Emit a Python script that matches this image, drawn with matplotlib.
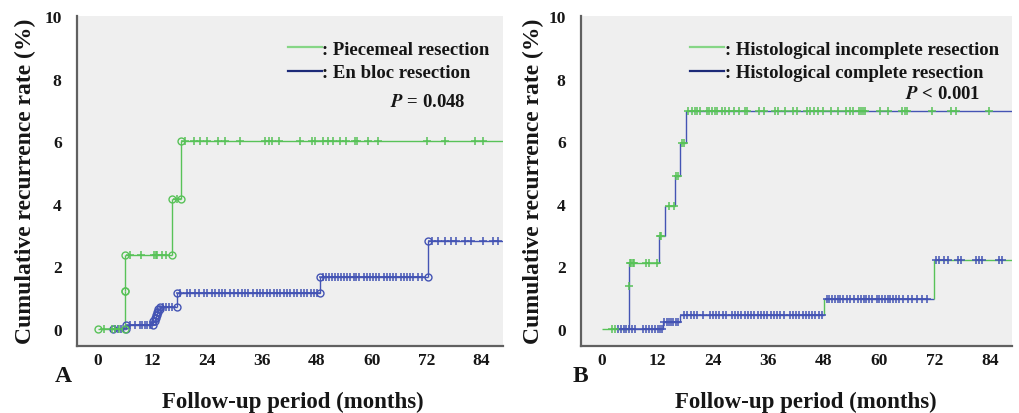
import numpy as np
import matplotlib
matplotlib.use("Agg")
import matplotlib.pyplot as plt
from matplotlib.lines import Line2D

plt.rcParams['font.family'] = ['Liberation Serif', 'DejaVu Serif']
plt.rcParams['font.weight'] = 'bold'
plt.rcParams['mathtext.fontset'] = 'stix'

# ---------------- data ----------------
x_ticks = [0, 12, 24, 36, 48, 60, 72, 84]
y_ticks = [0, 2, 4, 6, 8, 10]
x_end = 88.7

# Panel A
a_green_label = ": Piecemeal resection"
a_green_t = [0, 6.1, 6.1, 16.2, 18.2]
a_green_v = [0, 1.2, 2.35, 4.15, 6.0]
a_green_cens = [1.3, 3.1, 3.9, 4.6, 7.1, 9.5, 12.4, 12.8, 13.1, 14.1, 15.0, 17.3,
                19.2, 21.0, 22.4, 23.9, 26.4, 27.9, 31.2, 36.7, 37.4, 38.1, 39.6,
                44.3, 46.9, 47.6, 49.4, 50.5, 51.6, 53.0, 54.4, 56.3, 56.8, 59.2,
                61.4, 72.0, 76.0, 82.5, 84.4]

a_blue_label = ": En bloc resection"
a_blue_t = [3.3, 6.3, 12.2, 12.5, 12.8, 13.0, 13.3, 13.7, 17.3, 48.7, 72.3]
a_blue_v = [0, 0.13, 0.25, 0.35, 0.45, 0.55, 0.62, 0.7, 1.14, 1.65, 2.8]
a_blue_cens = [3.9, 4.5, 5.2, 7.1, 8.2, 9.3, 9.7, 10.4, 10.9, 11.5, 11.9,
               14.3, 15.0, 15.6, 16.2,
               18.0, 19.6, 20.3, 21.4, 22.1, 23.2, 23.9, 25.0, 25.7, 26.5, 27.2,
               27.9, 29.0, 29.8, 30.8, 31.6, 32.3, 33.0, 34.1, 34.8, 35.6, 36.3,
               37.0, 37.8, 38.5, 39.2, 40.0, 40.7, 41.4, 42.2, 42.9, 43.6, 44.4,
               45.1, 45.8, 46.6, 47.3, 48.0,
               49.3, 50.0, 50.6, 51.3, 52.0, 52.6, 53.3, 54.0, 54.6, 55.3, 56.0,
               56.6, 57.3, 58.3, 59.0, 59.6, 60.3, 61.0, 61.6, 62.6, 63.3, 64.0,
               64.6, 65.3, 66.3, 67.0, 67.6, 68.3, 69.0, 70.0, 71.0,
               73.1, 74.5, 76.0, 77.4, 78.5, 80.4, 81.8, 84.4, 86.5, 87.6]
a_p_text = r"$\mathbfit{P}$ = 0.048"

# Panel B
b_green_label = ": Histological incomplete resection"
b_green_t = [0, 5.9, 5.9, 12.3, 13.6, 15.9, 16.9, 18.1]
b_green_v = [0, 1.38, 2.1, 2.98, 3.92, 4.9, 5.93, 6.97]
b_green_cens = [2.3, 2.9, 6.1, 6.4, 6.7, 7.0, 9.5, 10.2, 12.0, 12.5, 12.9,
                14.5, 15.6, 16.0, 16.4, 17.3, 17.8,
                18.7, 19.4, 20.1, 20.6, 21.3, 22.7, 23.2, 23.8, 24.4, 24.9, 26.0,
                26.7, 27.4, 28.5, 29.6, 31.0, 31.4, 33.9, 35.0, 37.5, 38.2, 39.6,
                41.4, 42.2, 44.3, 45.0, 45.8, 46.8, 47.9, 49.6, 51.0,
                52.7, 53.6, 54.3, 55.6, 56.0, 56.5, 56.9, 60.1, 61.9, 64.9, 65.5,
                66.0, 71.4, 75.5, 76.6, 83.8]
b_green_mid_t = [5.9]
b_green_mid_v = [1.38]

b_blue_label = ": Histological complete resection"
b_blue_t = [3.4, 13.3, 17.0, 48.1, 71.8]
b_blue_v = [0, 0.23, 0.45, 0.96, 2.2]
b_blue_cens = [3.5, 4.1, 4.7, 5.3, 5.9, 6.6, 7.2, 9.0, 9.6, 10.3, 10.9, 11.5,
               12.1, 12.6, 13.0,
               13.5, 14.0, 14.5, 15.0, 15.5, 16.0, 16.4,
               17.8, 18.5, 19.2, 19.9, 20.6, 21.9, 23.3, 24.0, 24.7, 25.4, 26.1,
               26.8, 28.1, 28.8, 29.5, 30.2, 30.9, 31.6, 32.3, 33.0, 33.7, 34.4,
               35.1, 35.8, 36.5, 37.2, 37.9, 38.6, 39.3, 40.6, 41.3, 42.0, 42.7,
               43.4, 44.1, 44.8, 45.5, 46.2, 46.9, 47.6,
               48.6, 49.2, 49.8, 50.4, 51.0, 51.6, 52.2, 53.0, 53.6, 54.6, 55.4,
               56.0, 56.6, 57.2, 57.8, 58.4, 59.4, 60.0, 60.6, 61.2, 61.8, 62.4,
               63.0, 63.6, 64.2, 65.2, 66.2, 67.0, 68.2, 69.2, 70.4,
               72.3, 73.0, 74.1, 74.8, 77.0, 77.7, 80.9, 81.6, 82.3, 85.9, 86.6]
b_p_text = r"$\mathbfit{P}$ < 0.001"

# ---------------- style ----------------
GREEN = '#58c258'
BLUE = '#4454b4'
LEG_GREEN = '#86d686'
LEG_BLUE = '#1c2a78'
BG = '#efefef'
TXT = '#161616'


def level_at(ts, vs, t):
    idx = np.searchsorted(ts, t, side='right') - 1
    idx = np.clip(idx, 0, len(vs) - 1)
    return np.asarray(vs)[idx]


def draw_curve(ax, ts, vs, cens, color, vcolor=None, last_color=None, circles=False):
    ts = np.asarray(ts, float)
    vs = np.asarray(vs, float)
    xs = np.append(ts, x_end)
    n = len(ts)
    for i in range(n):
        c = color
        if i == n - 1 and last_color is not None:
            c = last_color
        ax.hlines(vs[i], xs[i], xs[i + 1], colors=c, lw=1.0, zorder=2)
    for i in range(1, n):
        c = color
        if vcolor is not None:
            c = vcolor[i - 1]
        ax.vlines(ts[i], vs[i - 1], vs[i], colors=c, lw=1.0, zorder=2)
    cens = np.asarray(cens, float)
    ax.plot(cens, level_at(ts, vs, cens), linestyle='none', marker='+',
            ms=5.5, mew=1.1, color=color, zorder=3)
    if circles:
        cx = [ts[0]]
        cy = [vs[0]]
        for i in range(1, n):
            cx += [ts[i], ts[i]]
            cy += [vs[i - 1], vs[i]]
        ax.plot(cx, cy, linestyle='none', marker='o', ms=5, mfc='none',
                mew=1.0, color=color, zorder=3)


fig = plt.figure(figsize=(10.19, 4.14), dpi=100)
fig.patch.set_facecolor('white')

axA = fig.add_axes([77 / 1019, 67 / 414, 426 / 1019, 330 / 414])
axB = fig.add_axes([581 / 1019, 67 / 414, 431 / 1019, 330 / 414])

for ax in (axA, axB):
    ax.set_facecolor(BG)
    ax.set_xlim(-4.5, x_end)
    ax.set_ylim(-0.55, 10)
    ax.set_xticks(x_ticks)
    ax.set_yticks(y_ticks)
    ax.tick_params(length=0, labelsize=12.5, colors=TXT)
    ax.tick_params(axis='y', pad=11)
    ax.tick_params(axis='x', pad=4)
    for lab in ax.get_xticklabels() + ax.get_yticklabels():
        lab.set_fontweight('bold')
    for s in ('top', 'right'):
        ax.spines[s].set_visible(False)
    for s in ('left', 'bottom'):
        ax.spines[s].set_color('#606060')
        ax.spines[s].set_linewidth(1.6)

draw_curve(axA, a_blue_t, a_blue_v, a_blue_cens, BLUE, circles=True)
draw_curve(axA, a_green_t, a_green_v, a_green_cens, GREEN, circles=True)

draw_curve(axB, b_blue_t, b_blue_v, b_blue_cens, BLUE,
           vcolor=[BLUE, BLUE, GREEN, GREEN], last_color=GREEN)
draw_curve(axB, b_green_t, b_green_v, b_green_cens, GREEN,
           vcolor=[BLUE] * (len(b_green_t) - 1), last_color=BLUE)
axB.plot(b_green_mid_t, b_green_mid_v, linestyle='none', marker='+',
         ms=5.5, mew=1.1, color=GREEN, zorder=3)

for ax, labs in ((axA, (a_green_label, a_blue_label)),
                 (axB, (b_green_label, b_blue_label))):
    handles = [Line2D([], [], color=LEG_GREEN, lw=1.6),
               Line2D([], [], color=LEG_BLUE, lw=1.6)]
    leg = ax.legend(handles, labs, loc='upper right', bbox_to_anchor=(1.0, 0.965),
                    frameon=False, handlelength=1.8, handletextpad=0.05,
                    labelspacing=0.35, borderaxespad=0.3,
                    prop={'family': 'Liberation Serif', 'weight': 'bold', 'size': 13.5})
    for t in leg.get_texts():
        t.set_color(TXT)

axA.text(0.912, 0.74, a_p_text, transform=axA.transAxes, ha='right', va='center',
         fontsize=13.5, fontweight='bold', color=TXT)
axB.text(0.927, 0.765, b_p_text, transform=axB.transAxes, ha='right', va='center',
         fontsize=13.5, fontweight='bold', color=TXT)

ylab = "Cumulative recurrence rate (%)"
xlab = "Follow-up period (months)"
fig.text(25 / 1019, 1 - 181 / 414, ylab, rotation=90, ha='center', va='center',
         fontsize=17, fontweight='bold', color=TXT)
fig.text(533 / 1019, 1 - 181 / 414, ylab, rotation=90, ha='center', va='center',
         fontsize=17, fontweight='bold', color=TXT)
fig.text(293 / 1019, 1 - 402 / 414, xlab, ha='center', va='center',
         fontsize=16.5, fontweight='bold', color=TXT)
fig.text(806 / 1019, 1 - 402 / 414, xlab, ha='center', va='center',
         fontsize=16.5, fontweight='bold', color=TXT)
fig.text(63 / 1019, 1 - 377 / 414, "A", ha='center', va='center',
         fontsize=17, fontweight='bold', color=TXT)
fig.text(580 / 1019, 1 - 377 / 414, "B", ha='center', va='center',
         fontsize=17, fontweight='bold', color=TXT)

fig.savefig("out.png", dpi=100, facecolor='white')
